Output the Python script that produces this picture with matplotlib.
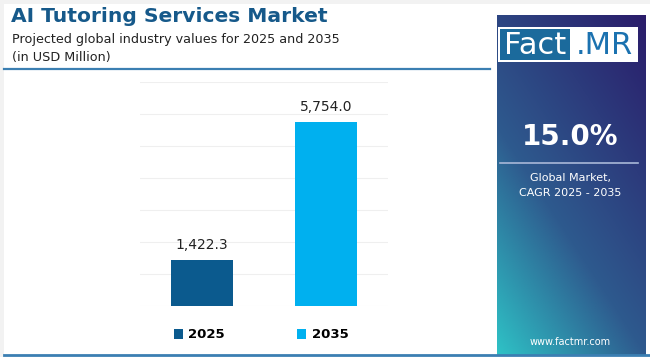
import numpy as np
import matplotlib.pyplot as plt
from matplotlib.patches import Rectangle
from matplotlib.lines import Line2D

years = ['2025', '2035']
values = [1422.3, 5754.0]
labels = ['1,422.3', '5,754.0']
colors = ['#0b5a8e', '#00b0ef']
cagr = '15.0%'

W, H = 650, 357
fig = plt.figure(figsize=(6.5, 3.57), dpi=100)
fig.patch.set_facecolor('#f2f2f2')


def fx(x):
    return x / W


def fy(y):
    return 1 - y / H


# white card
fig.patches.append(Rectangle((fx(4), 0), fx(646), fy(4), transform=fig.transFigure,
                             facecolor='white', edgecolor='none', zorder=-5))

# header / footer lines
fig.lines.append(Line2D([fx(4), fx(490)], [fy(69), fy(69)], transform=fig.transFigure,
                        color='#3b7fb2', lw=1.6))
fig.lines.append(Line2D([fx(4), fx(650)], [fy(355), fy(355)], transform=fig.transFigure,
                        color='#3b7fb2', lw=2))

# title
fig.text(fx(11), fy(17), 'AI Tutoring Services Market', fontsize=14.6, fontweight='bold',
         color='#16598a', va='center', ha='left')
fig.text(fx(12), fy(39), 'Projected global industry values for 2025 and 2035', fontsize=9.2,
         color='#222222', va='center', ha='left')
fig.text(fx(12), fy(57), '(in USD Million)', fontsize=9.2, color='#222222', va='center', ha='left')

# bars
ax = fig.add_axes([fx(140), fy(306), fx(388) - fx(140), (306 - 82) / H])
ax.patch.set_alpha(0)
x = np.arange(len(years))
bars = ax.bar(x, values, width=0.5, color=colors, zorder=2)
for xi, v, lab in zip(x, values, labels):
    ax.text(xi, v + 250, lab, ha='center', va='bottom', fontsize=10, color='#222222')
ax.set_xlim(-0.5, 1.5)
ax.set_ylim(0, 7000)
ax.set_yticks(np.arange(0, 7001, 1000))
ax.yaxis.grid(True, color='#efefef', lw=0.8)
ax.set_axisbelow(True)
ax.tick_params(left=False, bottom=False, labelleft=False, labelbottom=False)
for s in ax.spines.values():
    s.set_visible(False)

# legend
fig.legend(bars, years, ncol=2, frameon=False, loc='center', bbox_to_anchor=(fx(261), fy(335)),
           handlelength=0.7, handleheight=0.7, handletextpad=0.4, columnspacing=5.5,
           prop={'weight': 'bold', 'size': 9.5})

# right panel gradient
pax = fig.add_axes([fx(497), fy(355), fx(646) - fx(497), (355 - 15) / H])
gx, gy = np.meshgrid(np.linspace(0, 1, 100), np.linspace(0, 1, 300))
t = np.clip(0.6 * gy + 0.4 * (1 - gx), 0, 1)  # 0 at top right, 1 at bottom left
top = np.array([0x2a, 0x1c, 0x6a]) / 255
mid = np.array([0x2e, 0x5a, 0x8e]) / 255
bot = np.array([0x2e, 0xc2, 0xc6]) / 255
t3 = t[..., None]
img = np.where(t3 < 0.6, top + (mid - top) * (t3 / 0.6), mid + (bot - mid) * ((t3 - 0.6) / 0.4))
pax.imshow(img, aspect='auto', extent=[0, 1, 0, 1], origin='upper')
pax.set_xlim(0, 1)
pax.set_ylim(0, 1)
pax.axis('off')

# logo
fig.patches.append(Rectangle((fx(498), fy(62)), fx(140), 35 / H, transform=fig.transFigure,
                             facecolor='white', edgecolor='none', zorder=3))
fig.patches.append(Rectangle((fx(500), fy(60)), fx(70), 31 / H, transform=fig.transFigure,
                             facecolor='#1b6a9c', edgecolor='none', zorder=4))
fig.text(fx(535), fy(45), 'Fact', fontsize=22, color='white', ha='center', va='center', zorder=5)
fig.text(fx(604), fy(45), '.MR', fontsize=22, color='#1b72b0', ha='center', va='center', zorder=5)

fig.text(fx(570), fy(137), cagr, fontsize=20, fontweight='bold', color='white', ha='center',
         va='center', zorder=5)
fig.lines.append(Line2D([fx(500), fx(638)], [fy(163), fy(163)], transform=fig.transFigure,
                        color='#a9b8d8', lw=1.2, zorder=5))
fig.text(fx(570), fy(178), 'Global Market,', fontsize=8, color='white', ha='center', va='center', zorder=5)
fig.text(fx(570), fy(193), 'CAGR 2025 - 2035', fontsize=8, color='white', ha='center', va='center', zorder=5)
fig.text(fx(570), fy(342), 'www.factmr.com', fontsize=7, color='white', ha='center', va='center', zorder=5)

fig.savefig('out.png', dpi=100, facecolor=fig.get_facecolor())
